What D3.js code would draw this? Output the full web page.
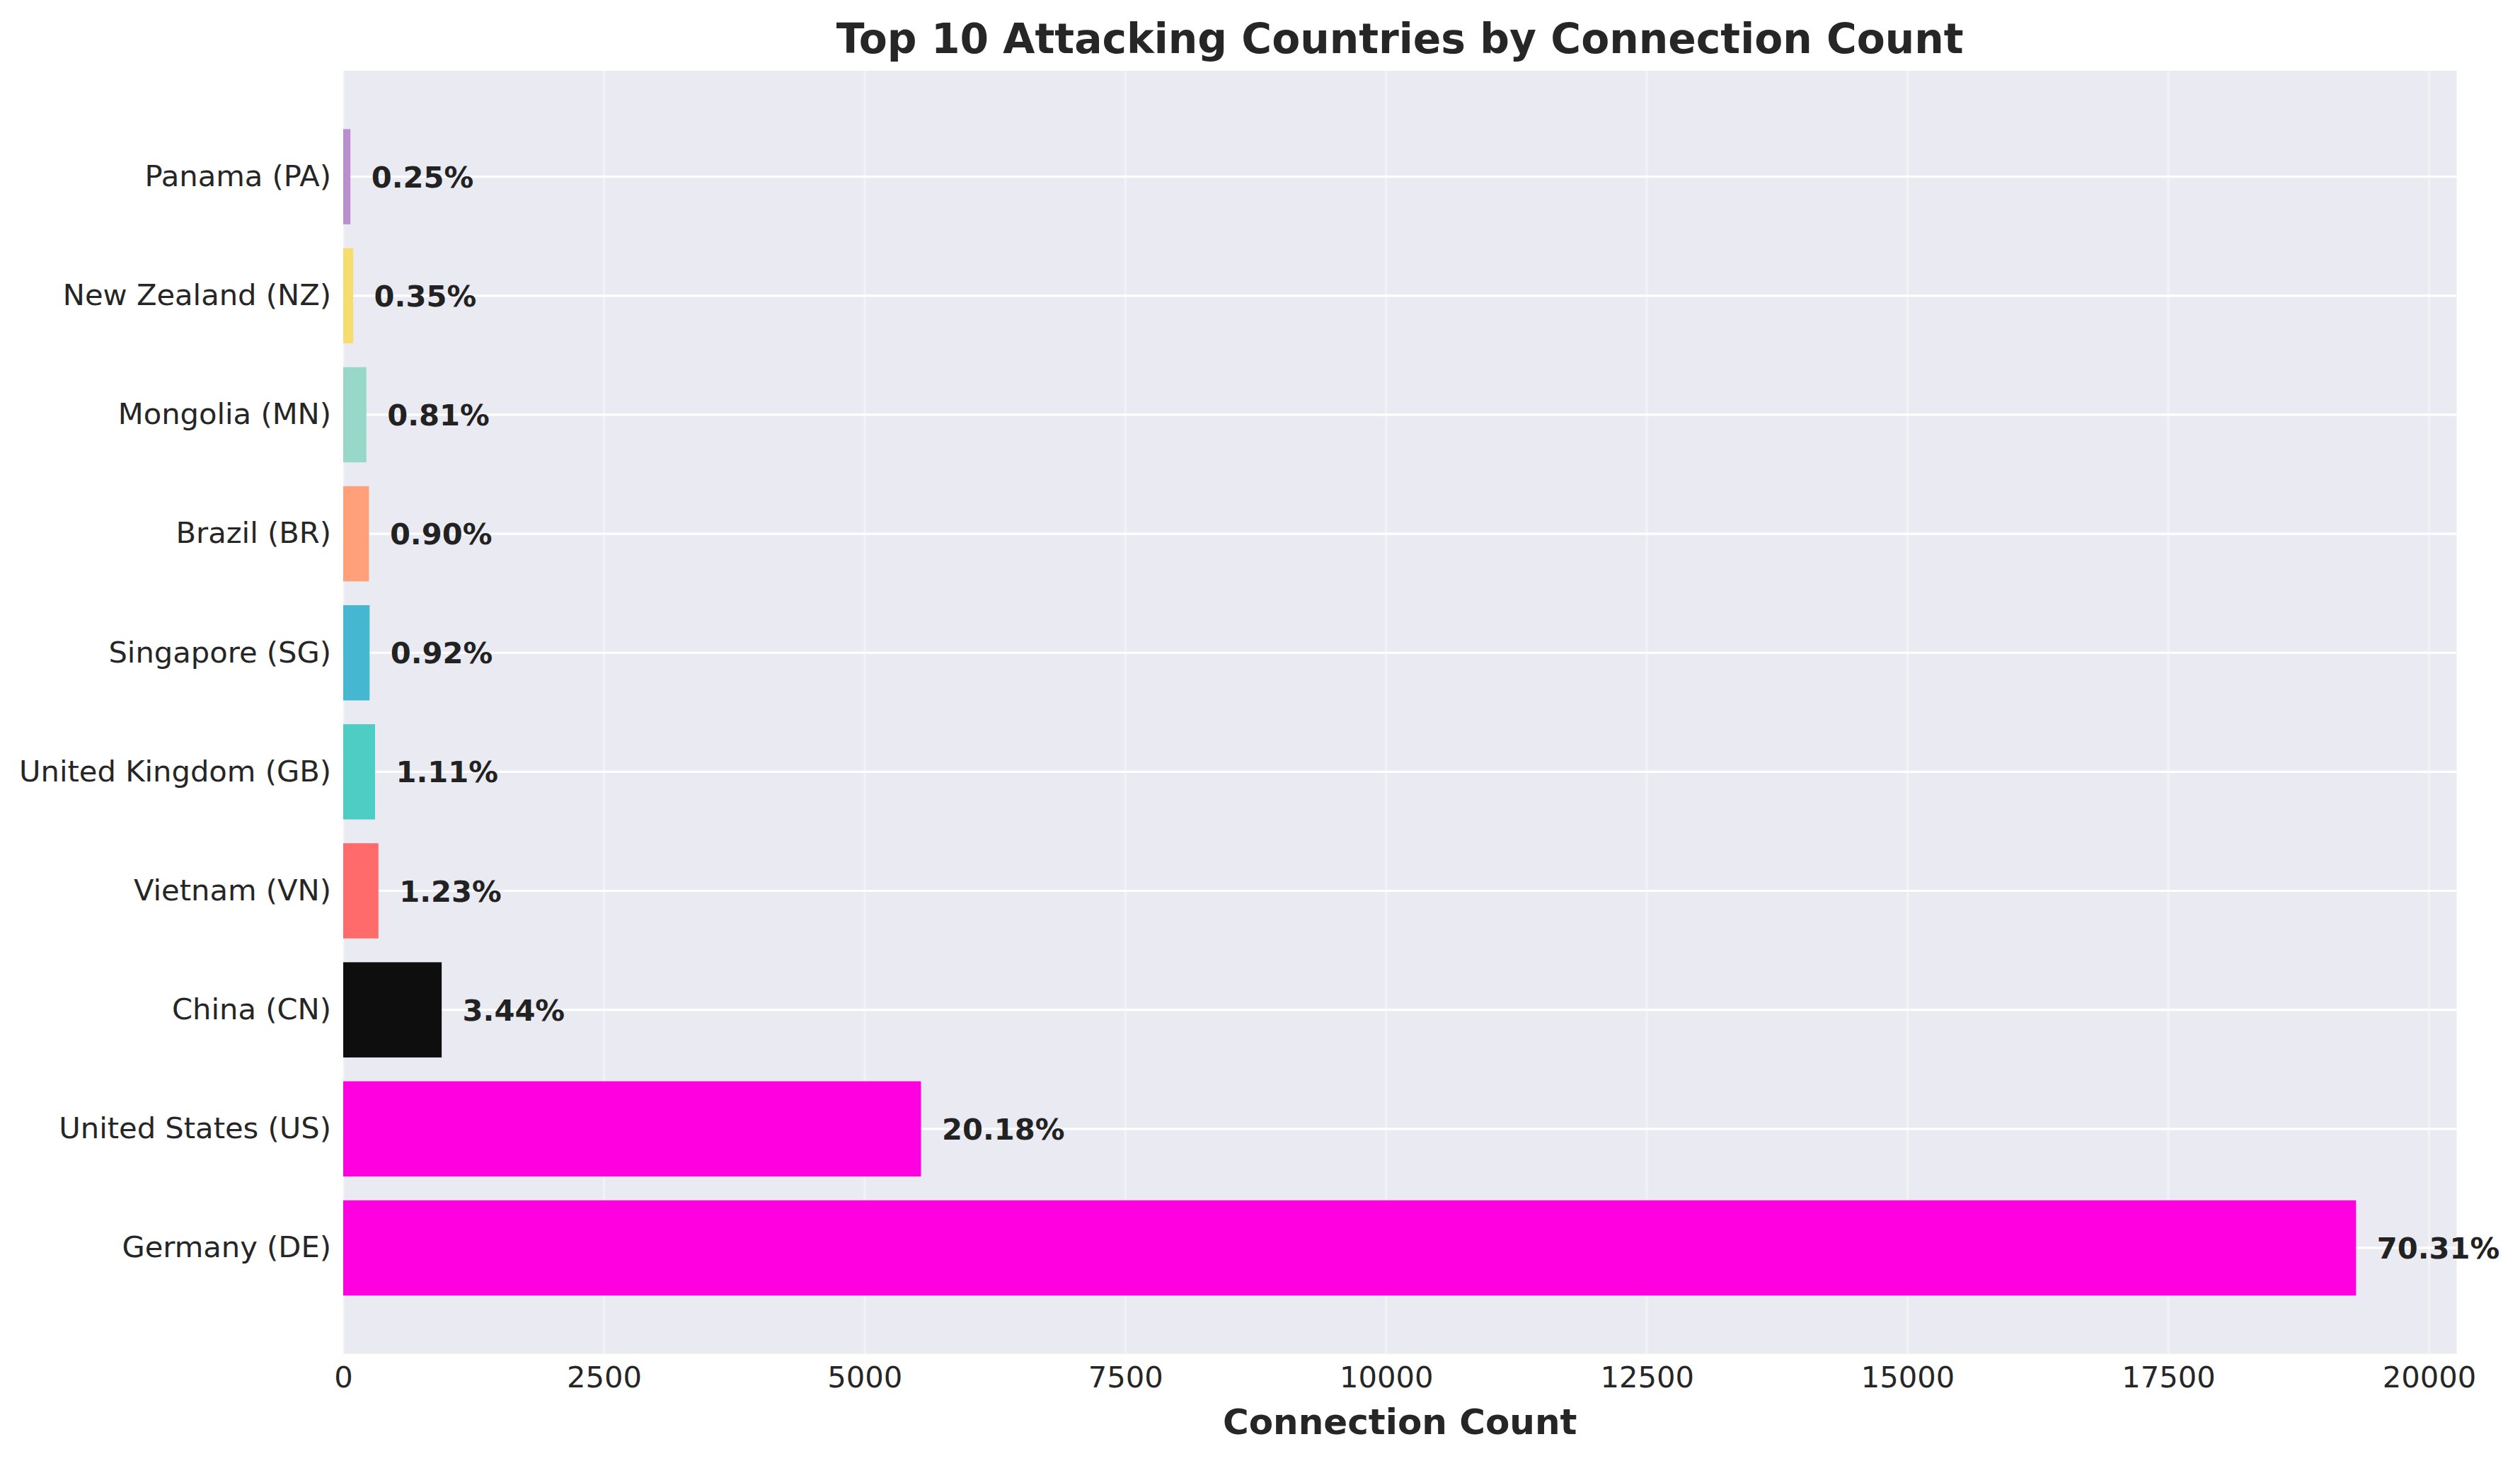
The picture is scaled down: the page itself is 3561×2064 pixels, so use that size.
<!DOCTYPE html>
<html>
<head>
<meta charset="utf-8">
<script src="https://cdn.jsdelivr.net/npm/d3@7"></script>
<style>
  html, body { margin: 0; padding: 0; background: #ffffff; }
  svg { display: block; font-family: "DejaVu Sans", sans-serif; }
</style>
</head>
<body>
<svg id="chart" width="3561" height="2064"></svg>
<script>
// Data (top to bottom as displayed)
const countries = ["Panama (PA)", "New Zealand (NZ)", "Mongolia (MN)", "Brazil (BR)", "Singapore (SG)",
                   "United Kingdom (GB)", "Vietnam (VN)", "China (CN)", "United States (US)", "Germany (DE)"];
const counts = [69, 96, 222, 247, 253, 305, 338, 944, 5540, 19300];
const percentages = ["0.25%", "0.35%", "0.81%", "0.90%", "0.92%", "1.11%", "1.23%", "3.44%", "20.18%", "70.31%"];
const barColors = ["#BB8FCE", "#F7DC6F", "#98D8C8", "#FFA07A", "#45B7D1",
                   "#4ECDC4", "#FF6B6B", "#0E0E0E", "#FF00E0", "#FF00E0"];
const xTicks = [0, 2500, 5000, 7500, 10000, 12500, 15000, 17500, 20000];
const titleText = "Top 10 Attacking Countries by Connection Count";
const xLabelText = "Connection Count";

(function () {
const svg = d3.select("#chart");
const mLeft = 485, mRight = 3471.5, mTop = 100, mBottom = 1912.6;

const x = d3.scaleLinear().domain([0, d3.max(counts) * 1.05]).range([mLeft, mRight]);
const y = d3.scaleBand().domain(countries).range([mTop, mBottom]).paddingInner(0.2).paddingOuter(0.49);

// background
svg.append("rect").attr("x", mLeft).attr("y", mTop).attr("width", mRight - mLeft).attr("height", mBottom - mTop)
  .attr("fill", "#EAEAF2");

// vertical grid (faint)
svg.append("g").selectAll("line").data(xTicks).join("line")
  .attr("x1", d => x(d)).attr("x2", d => x(d)).attr("y1", mTop).attr("y2", mBottom)
  .attr("stroke", "#ffffff").attr("stroke-opacity", 0.35).attr("stroke-width", 3.5);

// horizontal grid (white)
svg.append("g").selectAll("line").data(countries).join("line")
  .attr("x1", mLeft).attr("x2", mRight)
  .attr("y1", d => y(d) + y.bandwidth() / 2).attr("y2", d => y(d) + y.bandwidth() / 2)
  .attr("stroke", "#ffffff").attr("stroke-width", 3.2);

// bars
svg.append("g").selectAll("rect").data(countries).join("rect")
  .attr("x", x(0)).attr("y", d => y(d))
  .attr("width", (d, i) => x(counts[i]) - x(0)).attr("height", y.bandwidth())
  .attr("fill", (d, i) => barColors[i]);

// value labels
svg.append("g").selectAll("text").data(countries).join("text")
  .attr("x", (d, i) => x(counts[i] + 200)).attr("y", d => y(d) + y.bandwidth() / 2)
  .attr("dy", "0.36em")
  .attr("font-size", 41.67).attr("font-weight", "bold").attr("fill", "#222222")
  .text((d, i) => percentages[i]);

// x axis
const xAxis = svg.append("g").attr("transform", `translate(0,${mBottom})`)
  .call(d3.axisBottom(x).tickValues(xTicks).tickFormat(d3.format("d")).tickSize(0).tickPadding(17.8));
xAxis.select(".domain").remove();
xAxis.selectAll("text").attr("font-size", 41.67).attr("fill", "#262626").attr("font-family", "DejaVu Sans");

// y axis
const yAxis = svg.append("g").attr("transform", `translate(${mLeft},0)`)
  .call(d3.axisLeft(y).tickSize(0).tickPadding(17));
yAxis.select(".domain").remove();
yAxis.selectAll("text").attr("font-size", 41.67).attr("fill", "#262626").attr("font-family", "DejaVu Sans");

// title
svg.append("text").attr("x", (mLeft + mRight) / 2).attr("y", 75).attr("text-anchor", "middle")
  .attr("font-size", 58.3).attr("font-weight", "bold").attr("fill", "#262626").text(titleText);

// x label
svg.append("text").attr("x", (mLeft + mRight) / 2).attr("y", 2026).attr("text-anchor", "middle")
  .attr("font-size", 50).attr("font-weight", "bold").attr("fill", "#262626").text(xLabelText);
})();
</script>
</body>
</html>
